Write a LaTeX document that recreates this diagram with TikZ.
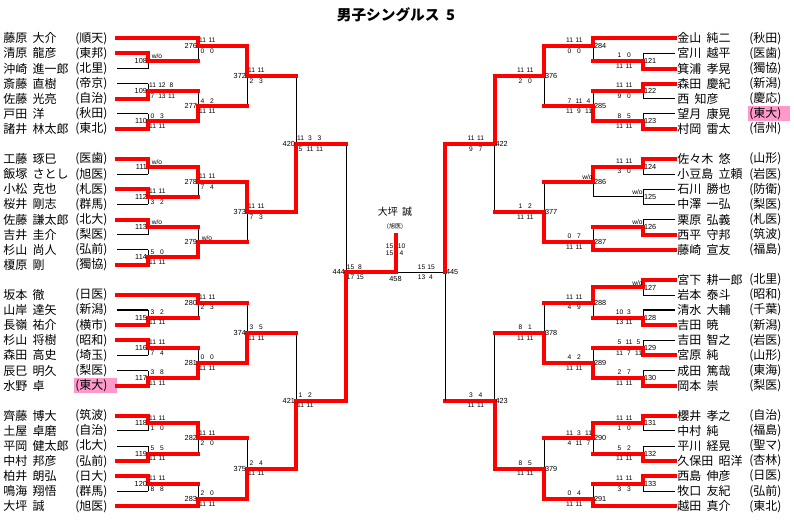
\documentclass[tikz,border=0pt]{standalone}
\usepackage{fontspec}
\setmainfont{Liberation Sans}
\newfontfamily\jp[WordSpace=2]{Noto Sans CJK JP}
\usetikzlibrary{positioning}
\definecolor{hlpink}{RGB}{255,153,204}
\pgfdeclarelayer{bg}
\pgfsetlayers{bg,main}

\tikzset{
  declare function={ry(\r)=38.3+15.1*\r;},
  win/.style={draw=red,line width=3pt,line cap=rect},
  lose/.style={draw=black,line width=0.75pt},
  losex/.style={draw=black,line width=1.5pt},
  pname/.style={font=\jp\fontsize{9}{9}\selectfont,inner sep=0pt},
  mnum/.style={font=\fontsize{5.5}{5.5}\selectfont,inner sep=0.6pt},
  score/.style={font=\fontsize{5}{5}\selectfont,inner sep=0pt},
}

% player: row, name, school, end of line, style
\newcommand{\lplayer}[5]{%
  \node[pname,anchor=west] (pl#1) at (3,{ry(#1)}) {#2};
  \node[pname,anchor=west] (sl#1) at (75,{ry(#1)}) {(#3)};
  \draw[#5] (117,{ry(#1)}) coordinate (el#1) -- (#4,{ry(#1)});
}
\newcommand{\rplayer}[5]{%
  \node[pname,anchor=west] (pr#1) at (677,{ry(#1)}) {#2};
  \node[pname,anchor=west] (sr#1) at (749,{ry(#1)}) {(#3)};
  \draw[#5] (675,{ry(#1)}) coordinate (er#1) -- (#4,{ry(#1)});
}
% match: x, next x, upper row, lower row, out row, winner u/l, number
\newcommand{\bracket}[7]{%
  \coordinate (m#7) at (#1,{ry(#5)});
  \coordinate (m#7u) at (#1,{ry(#3)});
  \coordinate (m#7l) at (#1,{ry(#4)});
  \if#6u
    \begin{pgfonlayer}{bg}\draw[lose] (m#7l) -- (m#7);\end{pgfonlayer}
    \draw[win] (m#7u) -- (m#7) -- (#2,{ry(#5)});
  \else
    \begin{pgfonlayer}{bg}\draw[lose] (m#7u) -- (m#7);\end{pgfonlayer}
    \draw[win] (m#7l) -- (m#7) -- (#2,{ry(#5)});
  \fi
}
\newcommand{\lmatch}[7]{\bracket{#1}{#2}{#3}{#4}{#5}{#6}{#7}%
  \node[mnum,anchor=east] (n#7) at (m#7) {#7};}
\newcommand{\rmatch}[7]{\bracket{#1}{#2}{#3}{#4}{#5}{#6}{#7}%
  \node[mnum,anchor=west] (n#7) at (m#7) {#7};}
% scores: number, upper, lower
\newcommand{\lscore}[3]{%
  \foreach \s [count=\k from 0] in {#2}
    \node[score] (su#1-\k) at ([shift={({4.5+9.5*\k},-5.5)}]m#1) {\s};
  \foreach \s [count=\k from 0] in {#3}
    \node[score] (sd#1-\k) at ([shift={({4.5+9.5*\k},5)}]m#1) {\s};
}
\newcommand{\rscore}[3]{%
  \foreach \s [count=\k from 0] in {#2}
    \node[score] (su#1-\k) at ([shift={({-23.5+9.5*\k},-5.5)}]m#1) {\s};
  \foreach \s [count=\k from 0] in {#3}
    \node[score] (sd#1-\k) at ([shift={({-23.5+9.5*\k},5)}]m#1) {\s};
}
\newcommand{\lwo}[1]{\node[score] (wo#1) at ([shift={(9,-4.5)}]m#1) {w/o};}
\newcommand{\rwo}[1]{\node[score] (wo#1) at ([shift={(-5.5,-4.5)}]m#1) {w/o};}

\begin{document}
\begin{tikzpicture}[x=0.75pt,y=-0.75pt]
\useasboundingbox (0,0) rectangle (794,522);

\node[font=\jp\bfseries\fontsize{11}{11}\selectfont] (title) at (396,15) {男子シングルス 5};

% highlights
\fill[hlpink] (74,{ry(23)-7.5}) rectangle (117,{ry(23)+7.5});
\fill[hlpink] (748,{ry(5)-7.5}) rectangle (790,{ry(5)+7.5});

% left side
\lplayer{0}{藤原 大介}{順天}{198}{win}
\lplayer{1}{清原 龍彦}{東邦}{148}{win}
\lplayer{2}{沖崎 進一郎}{北里}{148}{lose}
\lplayer{3}{斎藤 直樹}{帝京}{148}{lose}
\lplayer{4}{佐藤 光亮}{自治}{148}{win}
\lplayer{5}{戸田 洋}{秋田}{148}{lose}
\lplayer{6}{諸井 林太郎}{東北}{148}{win}
\lplayer{8}{工藤 琢巳}{医歯}{148}{win}
\lplayer{9}{飯塚 さとし}{旭医}{148}{lose}
\lplayer{10}{小松 克也}{札医}{148}{win}
\lplayer{11}{桜井 剛志}{群馬}{148}{lose}
\lplayer{12}{佐藤 謙太郎}{北大}{148}{win}
\lplayer{13}{吉井 圭介}{梨医}{148}{lose}
\lplayer{14}{杉山 尚人}{弘前}{148}{lose}
\lplayer{15}{榎原 剛}{獨協}{148}{win}
\lplayer{17}{坂本 徹}{日医}{198}{win}
\lplayer{18}{山岸 達矢}{新潟}{148}{losex}
\lplayer{19}{長嶺 祐介}{横市}{148}{win}
\lplayer{20}{杉山 将樹}{昭和}{148}{win}
\lplayer{21}{森田 高史}{埼玉}{148}{lose}
\lplayer{22}{辰巳 明久}{梨医}{148}{lose}
\lplayer{23}{水野 卓}{東大}{148}{win}
\lplayer{25}{齊藤 博大}{筑波}{148}{win}
\lplayer{26}{土屋 卓磨}{自治}{148}{lose}
\lplayer{27}{平岡 健太郎}{北大}{148}{lose}
\lplayer{28}{中村 邦彦}{弘前}{148}{win}
\lplayer{29}{柏井 朗弘}{日大}{148}{win}
\lplayer{30}{鳴海 翔悟}{群馬}{148}{lose}
\lplayer{31}{大坪 誠}{旭医}{198}{win}

\lmatch{148}{198}{1}{2}{1.5}{u}{108} \lwo{108}
\lmatch{148}{198}{3}{4}{3.5}{l}{109} \lscore{109}{11,12,8}{7,13,11}
\lmatch{148}{198}{5}{6}{5.5}{l}{110} \lscore{110}{0,3}{11,11}
\lmatch{198}{247}{0}{1.5}{0.5}{u}{276} \lscore{276}{11,11}{0,0}
\lmatch{198}{247}{3.5}{5.5}{4.5}{l}{277} \lscore{277}{4,2}{11,11}
\lmatch{247}{296}{0.5}{4.5}{2.5}{u}{372} \lscore{372}{11,11}{2,3}

\lmatch{148}{198}{8}{9}{8.5}{u}{111} \lwo{111}
\lmatch{148}{198}{10}{11}{10.5}{u}{112} \lscore{112}{11,11}{3,2}
\lmatch{148}{198}{12}{13}{12.5}{u}{113} \lwo{113}
\lmatch{148}{198}{14}{15}{14.5}{l}{114} \lscore{114}{5,0}{11,11}
\lmatch{198}{247}{8.5}{10.5}{9.5}{u}{278} \lscore{278}{11,11}{7,4}
\lmatch{198}{247}{12.5}{14.5}{13.5}{l}{279} \lwo{279}
\lmatch{247}{296}{9.5}{13.5}{11.5}{u}{373} \lscore{373}{11,11}{7,3}
\lmatch{296}{346}{2.5}{11.5}{7}{l}{420} \lscore{420}{11,3,3}{5,11,11}

\lmatch{148}{198}{18}{19}{18.5}{l}{115} \lscore{115}{3,2}{11,11}
\lmatch{198}{247}{17}{18.5}{17.5}{u}{280} \lscore{280}{11,11}{2,3}
\lmatch{148}{198}{20}{21}{20.5}{u}{116} \lscore{116}{11,11}{7,4}
\lmatch{148}{198}{22}{23}{22.5}{l}{117} \lscore{117}{3,8}{11,11}
\lmatch{198}{247}{20.5}{22.5}{21.5}{l}{281} \lscore{281}{0,0}{11,11}
\lmatch{247}{296}{17.5}{21.5}{19.5}{l}{374} \lscore{374}{3,5}{11,11}

\lmatch{148}{198}{25}{26}{25.5}{u}{118} \lscore{118}{11,11}{1,0}
\lmatch{148}{198}{27}{28}{27.5}{l}{119} \lscore{119}{5,5}{11,11}
\lmatch{198}{247}{25.5}{27.5}{26.5}{u}{282} \lscore{282}{11,11}{2,0}
\lmatch{148}{198}{29}{30}{29.5}{u}{120} \lscore{120}{11,11}{8,8}
\lmatch{198}{247}{29.5}{31}{30.5}{l}{283} \lscore{283}{2,0}{11,11}
\lmatch{247}{296}{26.5}{30.5}{28.5}{l}{375} \lscore{375}{2,4}{11,11}
\lmatch{296}{346}{19.5}{28.5}{24}{l}{421} \lscore{421}{1,2}{11,11}
\lmatch{346}{395.5}{7}{24}{15.5}{l}{444} \lscore{444}{15,8}{17,15}

% right side
\rplayer{0}{金山 純二}{秋田}{593}{win}
\rplayer{1}{宮川 越平}{医歯}{643}{lose}
\rplayer{2}{箕浦 孝晃}{獨協}{643}{win}
\rplayer{3}{森田 慶紀}{新潟}{643}{win}
\rplayer{4}{西 知彦}{慶応}{643}{lose}
\rplayer{5}{望月 康晃}{東大}{643}{lose}
\rplayer{6}{村岡 雷太}{信州}{643}{win}
\rplayer{8}{佐々木 悠}{山形}{643}{win}
\rplayer{9}{小豆島 立頼}{岩医}{643}{lose}
\rplayer{10}{石川 勝也}{防衛}{643}{lose}
\rplayer{11}{中澤 一弘}{梨医}{643}{lose}
\rplayer{12}{栗原 弘義}{札医}{643}{lose}
\rplayer{13}{西平 守邦}{筑波}{643}{win}
\rplayer{14}{藤崎 宣友}{福島}{593}{win}
\rplayer{16}{宮下 耕一郎}{北里}{643}{win}
\rplayer{17}{岩本 泰斗}{昭和}{643}{lose}
\rplayer{18}{清水 大輔}{千葉}{643}{losex}
\rplayer{19}{吉田 暁}{新潟}{643}{win}
\rplayer{20}{吉田 智之}{岩医}{643}{lose}
\rplayer{21}{宮原 純}{山形}{643}{win}
\rplayer{22}{成田 篤哉}{東海}{643}{lose}
\rplayer{23}{岡本 崇}{梨医}{643}{win}
\rplayer{25}{櫻井 孝之}{自治}{643}{win}
\rplayer{26}{中村 純}{福島}{643}{lose}
\rplayer{27}{平川 経晃}{聖マ}{643}{lose}
\rplayer{28}{久保田 昭洋}{杏林}{643}{win}
\rplayer{29}{西島 伸彦}{日医}{643}{win}
\rplayer{30}{牧口 友紀}{弘前}{643}{lose}
\rplayer{31}{越田 真介}{東北}{593}{win}

\rmatch{643}{593}{1}{2}{1.5}{l}{121} \rscore{121}{1,0}{11,11}
\rmatch{643}{593}{3}{4}{3.5}{u}{122} \rscore{122}{11,11}{9,0}
\rmatch{643}{593}{5}{6}{5.5}{l}{123} \rscore{123}{8,5}{11,11}
\rmatch{593}{544}{0}{1.5}{0.5}{u}{284} \rscore{284}{11,11}{0,0}
\rmatch{593}{544}{3.5}{5.5}{4.5}{l}{285} \rscore{285}{7,11,4}{11,9,11}
\rmatch{544}{494.5}{0.5}{4.5}{2.5}{u}{376} \rscore{376}{11,11}{2,0}

\rmatch{643}{593}{8}{9}{8.5}{u}{124} \rscore{124}{11,11}{3,0}
% 125: no winner
\coordinate (m125) at (643,{ry(10.5)});
\draw[lose] (643,{ry(10)}) -- (643,{ry(11)});
\draw[lose] (m125) -- (593,{ry(10.5)});
\node[mnum,anchor=west] (n125) at (m125) {125};
\rwo{125}
\rmatch{643}{593}{12}{13}{12.5}{l}{126} \rwo{126}
\rmatch{593}{544}{8.5}{10.5}{9.5}{u}{286} \rwo{286}
\rmatch{593}{544}{12.5}{14}{13.5}{l}{287} \rscore{287}{0,7}{11,11}
\rmatch{544}{494.5}{9.5}{13.5}{11.5}{l}{377} \rscore{377}{1,2}{11,11}
\rmatch{494.5}{445}{2.5}{11.5}{7}{u}{422} \rscore{422}{11,11}{9,7}

\rmatch{643}{593}{16}{17}{16.5}{u}{127} \rwo{127}
\rmatch{643}{593}{18}{19}{18.5}{l}{128} \rscore{128}{10,3}{13,11}
\rmatch{593}{544}{16.5}{18.5}{17.5}{u}{288} \rscore{288}{11,11}{4,9}
\rmatch{643}{593}{20}{21}{20.5}{l}{129} \rscore{129}{5,11,5}{11,7,11}
\rmatch{643}{593}{22}{23}{22.5}{l}{130} \rscore{130}{2,7}{11,11}
\rmatch{593}{544}{20.5}{22.5}{21.5}{l}{289} \rscore{289}{4,2}{11,11}
\rmatch{544}{494.5}{17.5}{21.5}{19.5}{l}{378} \rscore{378}{8,1}{11,11}

\rmatch{643}{593}{25}{26}{25.5}{u}{131} \rscore{131}{11,11}{1,0}
\rmatch{643}{593}{27}{28}{27.5}{l}{132} \rscore{132}{5,2}{11,11}
\rmatch{593}{544}{25.5}{27.5}{26.5}{u}{290} \rscore{290}{11,3,11}{4,11,7}
\rmatch{643}{593}{29}{30}{29.5}{u}{133} \rscore{133}{11,11}{3,3}
\rmatch{593}{544}{29.5}{31}{30.5}{l}{291} \rscore{291}{0,4}{11,11}
\rmatch{544}{494.5}{26.5}{30.5}{28.5}{l}{379} \rscore{379}{8,5}{11,11}
\rmatch{494.5}{445}{19.5}{28.5}{24}{l}{423} \rscore{423}{3,4}{11,11}

% semi final right, lost the final
\coordinate (m445) at (445,{ry(15.5)});
\coordinate (m458) at (395.5,{ry(15.5)});
\draw[lose] (445,{ry(24)}) -- (m445) -- (m458);
\draw[win] (445,{ry(7)}) -- (m445);
\node[mnum,anchor=west] (n445) at (m445) {445};
\rscore{445}{15,15}{13,4}

% final
\coordinate (top) at (395.5,235);
\draw[win] (m458) -- (top);
\node[mnum,below=2.5pt of m458] (n458) {458};
\node[score] (f1) at (389.5,246) {15};
\node[score] (f2) at (401.5,246) {10};
\node[score] (f3) at (389.5,253) {15};
\node[score] (f4) at (401.5,253) {4};
\node[font=\jp\fontsize{7.5}{7.5}\selectfont,inner sep=0pt] (champ) at (395,212) {大坪 誠};
\node[font=\jp\fontsize{4.5}{4.5}\selectfont,inner sep=0pt,below=4.5pt of champ] (champs) {(旭医)};

\end{tikzpicture}
\end{document}
